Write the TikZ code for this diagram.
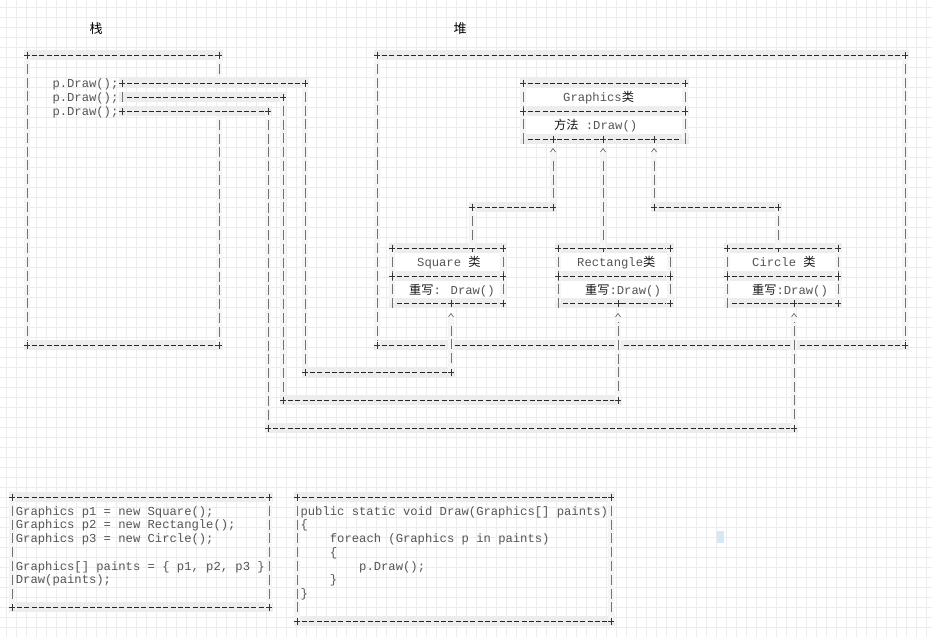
\documentclass[tikz,border=0pt]{standalone}
\usepackage{fontspec}
\newfontfamily\codefont{Liberation Mono}
\newfontfamily\cjkfont{Noto Sans CJK SC}
\usetikzlibrary{fit}
\definecolor{cGrid}{RGB}{236,236,236}
\definecolor{cBand}{RGB}{237,237,237}
\definecolor{cCode}{RGB}{85,85,85}
\definecolor{cCursor}{RGB}{212,232,245}
\newcommand\zh[1]{{\cjkfont\color{black!90}#1}}
% a plain ascii frame: dashed sides, + at the four corners
\newcommand\asciiframe[1]{%
  \draw[hseg] (#1.north west) -- (#1.north east);
  \draw[hseg] (#1.south west) -- (#1.south east);
  \draw[vseg] (#1.north west) -- (#1.south west);
  \draw[vseg] (#1.north east) -- (#1.south east);
  \pic at (#1.north west) {plusmark}; \pic at (#1.north east) {plusmark};
  \pic at (#1.south west) {plusmark}; \pic at (#1.south east) {plusmark};}
\tikzset{
  plusmark/.pic = {\draw[black!80, line width=0.8pt] (-3,0) -- (3,0) (0,-3.5) -- (0,3.5);},
  barmark/.pic  = {\draw[black!55, line width=0.8pt] (0,-5) -- (0,5);},
  caret/.pic    = {\draw[black!60, line width=0.7pt] (-2.5,0) -- (0,-3.5) -- (2.5,0);}
}

\begin{document}
\begin{tikzpicture}[
  x=1pt, y=-1pt,
  gridline/.style = {cGrid, line width=0.6pt},
  hseg/.style     = {draw=black!85, line width=0.8pt,
                     dash pattern=on 5pt off 2.33pt, dash phase=6.16pt,
                     shorten <=3.67pt, shorten >=3.67pt,
                     preaction={draw=cBand, line width=10pt, solid,
                                shorten <=-3.5pt, shorten >=-3.5pt}},
  vseg/.style     = {draw=black!55, line width=0.8pt,
                     dash pattern=on 10pt off 3.8pt, dash phase=10pt,
                     shorten <=5pt, shorten >=5pt,
                     preaction={draw=black!4, line width=6pt, solid,
                                shorten <=0pt, shorten >=0pt}},
  boxarea/.style  = {inner sep=0pt, outer sep=0pt},
  classbox/.style = {boxarea, fill=white},
  codeline/.style = {font=\codefont\fontsize{12.2}{13.8}\selectfont, text=cCode,
                     inner sep=0pt, anchor=west, text height=8pt, text depth=2.5pt,
                     yshift=-1.5pt},
  headline/.style = {font=\cjkfont\fontsize{13}{15}\selectfont, inner sep=0pt}
]

% ------------------------------------------------------------ background --
\fill[white] (0,0) rectangle (932,637);
\useasboundingbox (0,0) rectangle (932,637);
\foreach \gx in {6,16,...,926} \draw[gridline] (\gx,0) -- (\gx,637);
\foreach \gy in {7,17,...,637} \draw[gridline] (0,\gy) -- (932,\gy);

% ---------------------------------------------------------------- titles --
\node[headline] (stackTitle) at (96,29)  {栈};
\node[headline] (heapTitle)  at (460,29) {堆};

% ----------------------------------------------------------------- boxes --
\node[boxarea,  fit={(27,55) (219,345)}]   (stack)  {};
\node[boxarea,  fit={(377,55) (905,345)}]  (heap)   {};
\node[classbox, fit={(523,83) (685,139)}]  (gfx)    {};
\node[classbox, fit={(392,248) (503,303)}] (sq)     {};
\node[classbox, fit={(558,248) (670,303)}] (rect)   {};
\node[classbox, fit={(727,248) (838,303)}] (circ)   {};
\node[boxarea,  fit={(12,497) (269,607)}]  (setup)  {};
\node[boxarea,  fit={(297,497) (611,621)}] (drawfn) {};

% the three calls inside the stack
\node[codeline] (call1) at (52.3,83)  {p.Draw();};
\node[codeline] (call2) at (52.3,97)  {p.Draw();};
\node[codeline] (call3) at (52.3,111) {p.Draw();};
\coordinate (s1) at (122,83);  \coordinate (t1) at (305,83);
\coordinate (s2) at (122,97);  \coordinate (t2) at (283,97);
\coordinate (s3) at (122,111); \coordinate (t3) at (268,111);

% stack frame, right side broken by the calls
\draw[hseg] (stack.north west) -- (stack.north east);
\draw[hseg] (stack.south west) -- (stack.south east);
\draw[vseg] (stack.north west) -- (stack.south west);
\draw[vseg] (stack.north east) -- (stack.north east |- s1);
\draw[vseg] (stack.north east |- s3) -- (stack.south east);
\pic at (stack.north west) {plusmark}; \pic at (stack.north east) {plusmark};
\pic at (stack.south west) {plusmark}; \pic at (stack.south east) {plusmark};

\asciiframe{heap}

% ------------------------------------------------------- Graphics class --
\coordinate (gfxSepL) at (523,111); \coordinate (gfxSepR) at (685,111);
\coordinate (g1) at (553,139); \coordinate (g2) at (603,139); \coordinate (g3) at (654,139);
\draw[hseg] (gfx.north west) -- (gfx.north east);
\draw[hseg] (gfxSepL) -- (gfxSepR);
\draw[hseg] (gfx.south west) -- (gfx.south east);
\draw[vseg] (gfx.north west) -- (gfx.south west);
\draw[vseg] (gfx.north east) -- (gfx.south east);
\pic at (gfx.north west) {plusmark}; \pic at (gfx.north east) {plusmark};
\pic at (gfxSepL) {plusmark}; \pic at (gfxSepR) {plusmark};
\pic at (gfx.south west) {barmark}; \pic at (gfx.south east) {barmark};
\pic at (g1) {plusmark}; \pic at (g2) {plusmark}; \pic at (g3) {plusmark};
\node[codeline] (gfxName) at (563,97)  {Graphics\zh{类}};
\node[codeline] (gfxDraw) at (554,125) {\zh{方法} :Draw()};

% --------------------------------------------------------- Square class --
\coordinate (sqTop) at (472,248); \coordinate (sqBot) at (451,303);
\coordinate (sqSepL) at (392,276); \coordinate (sqSepR) at (503,276);
\draw[hseg] (sq.north west) -- (sq.north east);
\draw[hseg] (sqSepL) -- (sqSepR);
\draw[hseg] (sq.south west) -- (sq.south east);
\draw[vseg] (sq.north west) -- (sq.south west);
\draw[vseg] (sq.north east) -- (sq.south east);
\pic at (sq.north west) {plusmark}; \pic at (sqTop) {plusmark}; \pic at (sq.north east) {plusmark};
\pic at (sqSepL) {plusmark}; \pic at (sqSepR) {plusmark};
\pic at (sq.south west) {barmark}; \pic at (sqBot) {plusmark}; \pic at (sq.south east) {plusmark};
\node[codeline] (sqName) at (417,262) {Square \zh{类}};
\node[codeline] (sqDraw) at (409,290) {\zh{重写}: Draw()};

% ------------------------------------------------------ Rectangle class --
\coordinate (rectTop) at (603,248); \coordinate (rectBot) at (618,303);
\coordinate (rectSepL) at (558,276); \coordinate (rectSepR) at (670,276);
\draw[hseg] (rect.north west) -- (rect.north east);
\draw[hseg] (rectSepL) -- (rectSepR);
\draw[hseg] (rect.south west) -- (rect.south east);
\draw[vseg] (rect.north west) -- (rect.south west);
\draw[vseg] (rect.north east) -- (rect.south east);
\pic at (rect.north west) {plusmark}; \pic at (rectTop) {plusmark}; \pic at (rect.north east) {plusmark};
\pic at (rectSepL) {plusmark}; \pic at (rectSepR) {plusmark};
\pic at (rect.south west) {barmark}; \pic at (rectBot) {plusmark}; \pic at (rect.south east) {plusmark};
\node[codeline] (rectName) at (577,262) {Rectangle\zh{类}};
\node[codeline] (rectDraw) at (585,290) {\zh{重写}:Draw()};

% --------------------------------------------------------- Circle class --
\coordinate (circTop) at (778,248); \coordinate (circBot) at (794,303);
\coordinate (circSepL) at (727,276); \coordinate (circSepR) at (838,276);
\draw[hseg] (circ.north west) -- (circ.north east);
\draw[hseg] (circSepL) -- (circSepR);
\draw[hseg] (circ.south west) -- (circ.south east);
\draw[vseg] (circ.north west) -- (circ.south west);
\draw[vseg] (circ.north east) -- (circ.south east);
\pic at (circ.north west) {plusmark}; \pic at (circTop) {plusmark}; \pic at (circ.north east) {plusmark};
\pic at (circSepL) {plusmark}; \pic at (circSepR) {plusmark};
\pic at (circ.south west) {barmark}; \pic at (circBot) {plusmark}; \pic at (circ.south east) {plusmark};
\node[codeline] (circName) at (752,262) {Circle \zh{类}};
\node[codeline] (circDraw) at (752,290) {\zh{重写}:Draw()};

% ------------------------------------------ inheritance: up to Graphics --
\coordinate (k1) at (553,152); \coordinate (k2) at (603,152); \coordinate (k3) at (654,152);
\coordinate (e1) at (553,207); \coordinate (e1b) at (472,207);
\coordinate (e3) at (654,207); \coordinate (e3b) at (778,207);
\draw[vseg] (k1) -- (e1);
\draw[hseg] (e1) -- (e1b);
\draw[vseg] (e1b) -- (sqTop);
\draw[vseg] (k2) -- (rectTop);
\draw[vseg] (k3) -- (e3);
\draw[hseg] (e3) -- (e3b);
\draw[vseg] (e3b) -- (circTop);
\pic at (k1) {caret}; \pic at (k2) {caret}; \pic at (k3) {caret};
\pic at (e1) {plusmark}; \pic at (e1b) {plusmark};
\pic at (e3) {plusmark}; \pic at (e3b) {plusmark};

% ------------------------------------------- calls: stack to the objects --
\coordinate (u1) at (305,372); \coordinate (v1) at (451,372); \coordinate (w1) at (451,317);
\coordinate (u2) at (283,400); \coordinate (v2) at (618,400); \coordinate (w2) at (618,317);
\coordinate (u3) at (268,428); \coordinate (v3) at (794,428); \coordinate (w3) at (794,317);
\draw[hseg] (s1) -- (t1); \draw[vseg] (t1) -- (u1);
\draw[hseg] (u1) -- (v1); \draw[vseg] (v1) -- (w1);
\draw[hseg] (s2) -- (t2); \draw[vseg] (t2) -- (u2);
\draw[hseg] (u2) -- (v2); \draw[vseg] (v2) -- (w2);
\draw[hseg] (s3) -- (t3); \draw[vseg] (t3) -- (u3);
\draw[hseg] (u3) -- (v3); \draw[vseg] (v3) -- (w3);
\pic at (s1) {plusmark}; \pic at (t1) {plusmark}; \pic at (u1) {plusmark}; \pic at (v1) {plusmark};
\pic at (s2) {barmark};  \pic at (t2) {plusmark}; \pic at (u2) {plusmark}; \pic at (v2) {plusmark};
\pic at (s3) {plusmark}; \pic at (t3) {plusmark}; \pic at (u3) {plusmark}; \pic at (v3) {plusmark};
\pic at (w1) {caret}; \pic at (w2) {caret}; \pic at (w3) {caret};

% ------------------------------------------------------------ code boxes --
\asciiframe{setup}
\node[codeline] (line1) at (15.7,511)   {Graphics p1 = new Square();};
\node[codeline] (line2) at (15.7,524.5) {Graphics p2 = new Rectangle();};
\node[codeline] (line3) at (15.7,538.5) {Graphics p3 = new Circle();};
\node[codeline] (line4) at (15.7,566)   {Graphics[] paints = \{ p1, p2, p3 \}};
\node[codeline] (line5) at (15.7,579.5) {Draw(paints);};

\asciiframe{drawfn}
\node[codeline] (fn1) at (300.4,511)   {public static void Draw(Graphics[] paints)};
\node[codeline] (fn2) at (300.4,524.5) {\{};
\node[codeline] (fn3) at (329.7,538.5) {foreach (Graphics p in paints)};
\node[codeline] (fn4) at (329.7,552)   {\{};
\node[codeline] (fn5) at (359,566)     {p.Draw();};
\node[codeline] (fn6) at (329.7,579.5) {\}};
\node[codeline] (fn7) at (300.4,593.5) {\}};

% the stray caret block on the right
\node[fill=cCursor, minimum width=7pt, minimum height=12pt, inner sep=0pt] (cursor) at (720,537) {};

\end{tikzpicture}
\end{document}
